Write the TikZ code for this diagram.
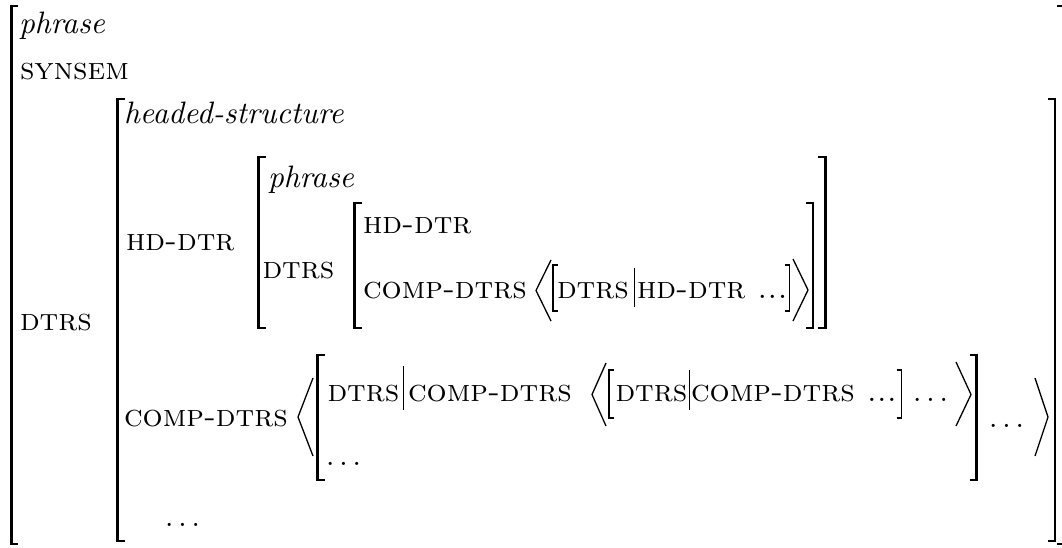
\documentclass[tikz,border=0pt]{standalone}
\begin{document}
\begin{tikzpicture}[x=1pt,y=-1pt,
  lbl/.style={inner sep=0pt, outer sep=0pt, anchor=base west},
  dots/.style={lbl, scale=3},
  ftr/.style={lbl, font=\scshape, xscale=3.16, yscale=3.1},
  typ/.style={lbl, font=\itshape, scale=3.1},
  bigbr/.style={line width=2.6pt, line cap=butt, line join=miter},
  smallbr/.style={line width=1.7pt, line cap=butt, line join=miter},
  ang/.style={line width=1.3pt, line join=miter},
  bar/.style={line width=0.9pt}]
\useasboundingbox (0,0) rectangle (1062,547);

% outermost structure: phrase
\node[typ] (p1) at (19,33) {phrase};
\node[ftr] (synsem) at (20,79) {synsem};
\node[ftr] (dtrs1) at (20,330) {dtrs};
\draw[bigbr] (18,6) -| (11.5,544) -- (18,544);
\draw[bigbr] (1057,6) -| (1063.5,544) -- (1057,544);

% headed structure
\node[typ] (hs) at (124,123) {headed-structure};
\node[ftr] (hd1) at (126,250) {hd-dtr};
\node[ftr] (cd1) at (124,426) {comp-dtrs};
\node[dots] (dots1) at (165,526) {$\ldots$};
\draw[bigbr] (125,99) -| (117.5,541) -- (125,541);
\draw[bigbr] (1048,99) -| (1055,541) -- (1048,541);

% head daughter
\node[typ] (p2) at (268,187) {phrase};
\node[ftr] (dtrs2) at (262.5,278) {dtrs};
\draw[bigbr] (266,157) -| (258.5,328) -- (266,328);
\draw[bigbr] (818,157) -| (825.5,328) -- (818,328);

\node[ftr] (hd2) at (363,233) {hd-dtr};
\node[ftr] (cd2) at (363,298) {comp-dtrs};
\draw[bigbr] (362,203) -| (354.5,328) -- (362,328);
\draw[bigbr] (806,203) -| (813,328) -- (806,328);

% list inside the head daughter
\node[ftr] (dtrs3) at (557,298) {dtrs};
\node[ftr] (hd3) at (637,298) {hd-dtr ...};
\draw[ang] (551,260) -- (536,290.5) -- (551,321);
\draw[smallbr] (558,265) -| (553,311) -- (558,311);
\draw[bar] (634,268) -- (634,307);
\draw[smallbr] (785,265) -| (789.5,311) -- (785,311);
\draw[ang] (793,259) -- (808,290) -- (793,321);

% complement daughters
\draw[ang] (313,378) -- (298,417) -- (313,456);
\draw[bigbr] (325,355) -| (317.5,480) -- (325,480);
\node[ftr] (dtrs4) at (327.5,401) {dtrs};
\draw[bar] (403,366) -- (403,410);
\node[ftr] (cd3) at (408,401) {comp-dtrs};
\node[dots] (dots2) at (326,465) {$\ldots$};

\draw[ang] (606,363) -- (592,394.5) -- (606,426);
\draw[smallbr] (614,370) -| (609,418) -- (614,418);
\node[ftr] (dtrs5) at (615.5,401) {dtrs};
\draw[bar] (689,370) -- (689,410);
\node[ftr] (cd4) at (691,401) {comp-dtrs ...};
\draw[smallbr] (897,370) -| (901.5,418) -- (897,418);
\node[dots] (dots3) at (913,401) {$\ldots$};
\draw[ang] (956,362) -- (971,394.5) -- (956,426);

\draw[bigbr] (970,355) -| (976.5,480) -- (970,480);
\node[dots] (dots4) at (989,427) {$\ldots$};
\draw[ang] (1035,378) -- (1048,417) -- (1035,456);
\end{tikzpicture}
\end{document}
